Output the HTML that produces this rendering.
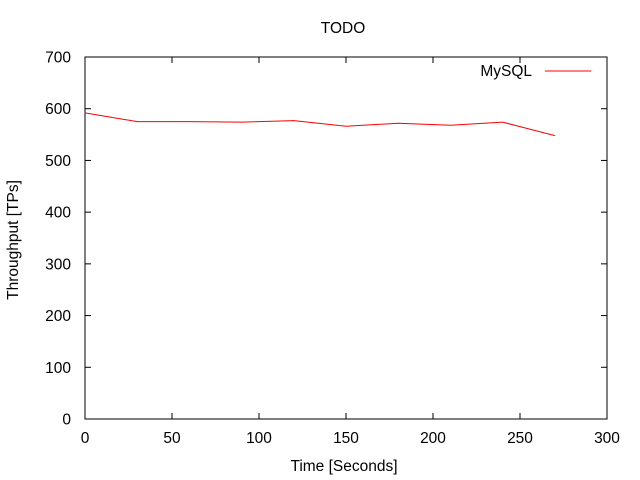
<!DOCTYPE html>
<html><head><meta charset="utf-8"><style>body{margin:0;background:#fff}svg{display:block;font-family:"Liberation Sans",sans-serif;font-size:15.5px}</style></head>
<body>
<svg id="c" width="640" height="480"></svg>
<script>
const xTicks=[0,50,100,150,200,250,300];
const yTicks=[0,100,200,300,400,500,600,700];
const times=[0,30,60,90,120,150,180,210,240,270];
const mysql=[592,575,575,574,577,566,572,568,574,548];
const L=85,R=607,T=57,B=419;
const sx=v=>L+(v-0)/(300-0)*(R-L);
const sy=v=>B-(v-0)/(700-0)*(B-T);
const svg=document.getElementById('c');
const NS='http://www.w3.org/2000/svg';
function mk(tag,attrs,parent){const e=document.createElementNS(NS,tag);for(const k in attrs)e.setAttribute(k,attrs[k]);(parent||svg).appendChild(e);return e;}
const frame=mk('rect',{x:L,y:T,width:R-L,height:B-T,fill:'none',stroke:'#000','stroke-width':1});


xTicks.forEach(v=>{const x=sx(v);
 const t1=mk('line',{x1:x,y1:B,x2:x,y2:B-6,stroke:'#000'});
 
 
 const t2=mk('line',{x1:x,y1:T,x2:x,y2:T+6,stroke:'#000'});
 
 
 const tx=mk('text',{x:x,y:B+24,'text-anchor':'middle'});tx.textContent=v;
 
 
});
yTicks.forEach(v=>{const y=sy(v);
 const t1=mk('line',{x1:L,y1:y,x2:L+6,y2:y,stroke:'#000'});
 
 
 const t2=mk('line',{x1:R,y1:y,x2:R-6,y2:y,stroke:'#000'});
 
 
 const tx=mk('text',{x:L-14,y:y+5.5,'text-anchor':'end'});tx.textContent=v;
 
 
});
const pl=mk('polyline',{points:times.map((t,i)=>sx(t)+','+sy(mysql[i])).join(' '),fill:'none',stroke:'#f00','stroke-width':1});


const lt=mk('text',{x:532,y:76,'text-anchor':'end'});lt.textContent='MySQL';


const ll=mk('line',{x1:545,y1:71,x2:591,y2:71,stroke:'#f00'});


const ti=mk('text',{x:343,y:33,'text-anchor':'middle'});ti.textContent='TODO';


const xt=mk('text',{x:344,y:471,'text-anchor':'middle'});xt.textContent='Time [Seconds]';


const yt=mk('text',{x:18,y:240,'text-anchor':'middle',transform:'rotate(-90 18 240)'});yt.textContent='Throughput [TPs]';


</script>
</body></html>
